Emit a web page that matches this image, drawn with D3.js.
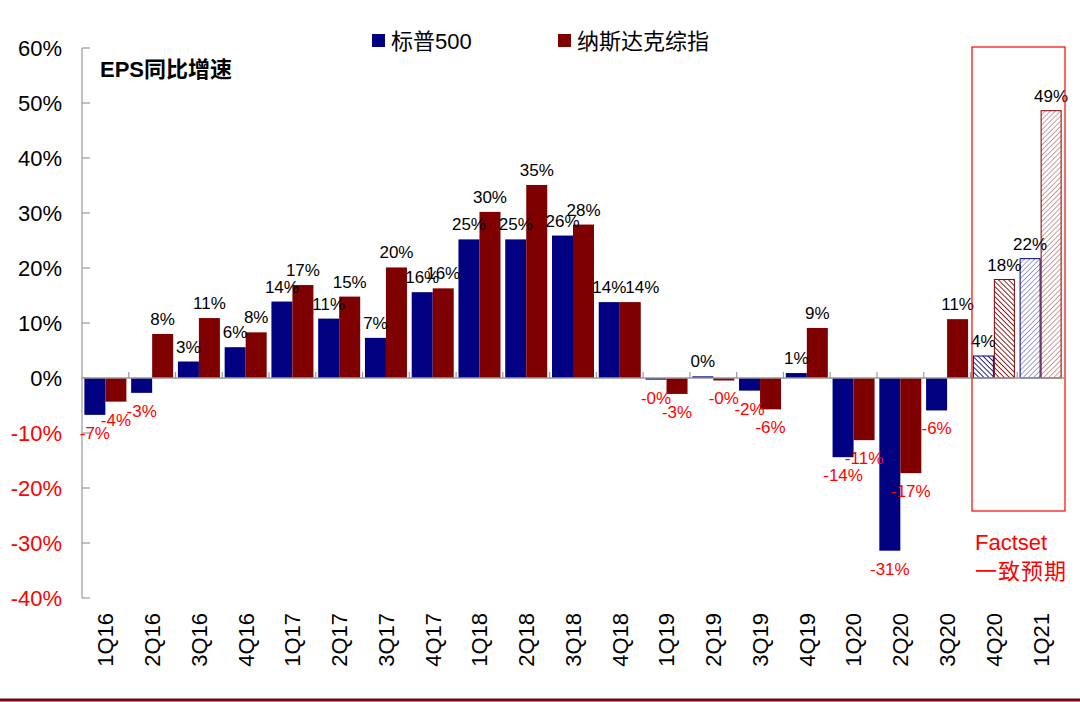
<!DOCTYPE html>
<html><head><meta charset="utf-8">
<script src="https://cdn.jsdelivr.net/npm/d3@7"></script>
<style>body{margin:0;background:#fff}svg{display:block}</style>
</head><body>
<svg id="c" width="1080" height="702"></svg>
<script>
const categories = ["1Q16","2Q16","3Q16","4Q16","1Q17","2Q17","3Q17","4Q17","1Q18","2Q18","3Q18","4Q18","1Q19","2Q19","3Q19","4Q19","1Q20","2Q20","3Q20","4Q20","1Q21"];
const sp500 = [-6.7,-2.7,3.0,5.6,13.9,10.8,7.3,15.6,25.2,25.2,25.9,13.8,-0.3,0.3,-2.3,0.9,-14.4,-31.4,-5.9,4.0,21.7];
const nasdaq = [-4.3,8.0,10.9,8.3,16.9,14.8,20.1,16.3,30.2,35.1,27.9,13.8,-2.9,-0.45,-5.7,9.1,-11.3,-17.3,10.7,17.9,48.6];
const seriesNames = ["标普500","纳斯达克综指"];
const yTicks = [60,50,40,30,20,10,0,-10,-20,-30,-40];
const forecastCats = ["4Q20","1Q21"];
const forecastText = ["Factset","一致预期"];
const titleText = "EPS同比增速";

const BLUE = "#000080", RED = "#7f0000";
const svg = d3.select("#c");
const FONT = "Arial, 'Liberation Sans', 'Noto Sans CJK SC', sans-serif";

const x0 = d3.scaleBand().domain(categories).range([82, 1064]).padding(0);
const x1 = d3.scaleBand().domain([0,1]).range([0, x0.bandwidth()]).paddingInner(0).paddingOuter(0.113);
const y = d3.scaleLinear().domain([-40, 60]).range([598, 48]);

// patterns
const defs = svg.append("defs");
function pat(id, color, angle, gap, w) {
  const p = defs.append("pattern").attr("id", id).attr("patternUnits","userSpaceOnUse")
    .attr("width", gap).attr("height", gap).attr("patternTransform", `rotate(${angle})`);
  p.append("rect").attr("width", gap).attr("height", gap).attr("fill", "#fff");
  p.append("line").attr("x1", 0).attr("y1", 0).attr("x2", 0).attr("y2", gap)
    .attr("stroke", color).attr("stroke-width", w);
}
pat("pb1", BLUE, -45, 3.6, 1.7);
pat("pr1", RED, -45, 3.6, 1.7);
pat("pb2", "#6a6ab8", 45, 3.6, 1.3);
pat("pr2", "#b06a6a", 45, 3.6, 1.3);

// y axis
const yAxis = svg.append("g");
yAxis.append("line").attr("x1", 82).attr("x2", 82).attr("y1", y(60)).attr("y2", y(-40)).attr("stroke", "#999").attr("stroke-width", 1.2);
yAxis.selectAll("line.t").data(yTicks).join("line").attr("class","t")
  .attr("x1", 82).attr("x2", 90).attr("y1", d => y(d)).attr("y2", d => y(d)).attr("stroke", "#999").attr("stroke-width", 1.2);
yAxis.selectAll("text").data(yTicks).join("text")
  .attr("x", 62).attr("y", d => y(d)).attr("dy", "0.36em").attr("text-anchor", "end")
  .attr("font-family", FONT).attr("font-size", 22)
  .attr("fill", d => d < 0 ? "#ff0000" : "#000")
  .text(d => d + "%");

// bars
const rows = categories.map((c, i) => ({c, i, vals: [sp500[i], nasdaq[i]]}));
const fcIdx = c => forecastCats.indexOf(c);
function fillFor(c, s) {
  const k = fcIdx(c);
  if (k < 0) return s === 0 ? BLUE : RED;
  return k === 0 ? (s === 0 ? "url(#pb1)" : "url(#pr1)") : (s === 0 ? "url(#pb2)" : "url(#pr2)");
}
const g = svg.append("g");
rows.forEach(r => {
  r.vals.forEach((v, s) => {
    const bx = x0(r.c) + x1(s);
    const isF = fcIdx(r.c) >= 0;
    g.append("rect")
      .attr("x", bx + (isF ? 0.5 : 0)).attr("width", x1.bandwidth() - (isF ? 1 : 0))
      .attr("y", Math.min(y(v), y(0))).attr("height", Math.abs(y(v) - y(0)))
      .attr("fill", fillFor(r.c, s))
      .attr("stroke", isF ? (s === 0 ? BLUE : RED) : "none").attr("stroke-width", 1);
  });
});

// x axis line + ticks
svg.append("line").attr("x1", 82).attr("x2", 1064).attr("y1", y(0)).attr("y2", y(0)).attr("stroke", "#999").attr("stroke-width", 1.5);
svg.append("g").selectAll("line").data(categories.slice(1)).join("line")
  .attr("x1", d => x0(d)).attr("x2", d => x0(d)).attr("y1", y(0)).attr("y2", y(0) - 6)
  .attr("stroke", "#999").attr("stroke-width", 1.2);

// value labels (one label nudged right as in the source)
const fmt = v => (v < 0 ? "-" : "") + Math.abs(Math.round(v)) + "%";
const nudge = {"4Q18-1": 12};
rows.forEach(r => {
  r.vals.forEach((v, s) => {
    const cx = x0(r.c) + x1(s) + x1.bandwidth() / 2 + (nudge[r.c + "-" + s] || 0);
    g.append("text").attr("x", cx)
      .attr("y", v >= 0 ? y(v) - 9 : y(v) + 24)
      .attr("text-anchor", "middle").attr("font-family", FONT).attr("font-size", 17)
      .attr("fill", v >= 0 ? "#000" : "#ff0000")
      .text(fmt(v));
  });
});

// x labels
svg.append("g").selectAll("text").data(categories).join("text")
  .attr("transform", d => `translate(${x0(d) + x0.bandwidth()/2},613) rotate(-90)`)
  .attr("dy", "0.36em").attr("text-anchor", "end")
  .attr("font-family", FONT).attr("font-size", 22).attr("fill", "#000")
  .text(d => d);

// forecast box
const bx0 = x0(forecastCats[0]) + 1.5, bx1 = x0(forecastCats[1]) + x0.bandwidth() + 1;
svg.append("rect").attr("x", bx0).attr("y", 47).attr("width", bx1 - bx0).attr("height", 464)
  .attr("fill", "none").attr("stroke", "#ff0000").attr("stroke-width", 1.2);
svg.append("g").selectAll("text").data(forecastText).join("text")
  .attr("x", 975).attr("y", (d, i) => 550 + i * 29)
  .attr("font-family", FONT).attr("font-size", 22).attr("fill", "#ff0000")
  .attr("letter-spacing", (d, i) => i === 1 ? 1 : 0)
  .text(d => d);

// title
svg.append("text").attr("x", 100).attr("y", 77)
  .attr("font-family", FONT).attr("font-size", 22).attr("font-weight", "bold").attr("fill", "#000")
  .text(titleText);

// legend
const leg = svg.append("g");
const legX = [372, 558];
seriesNames.forEach((n, i) => {
  leg.append("rect").attr("x", legX[i]).attr("y", 34).attr("width", 13).attr("height", 13).attr("fill", i === 0 ? BLUE : RED);
  leg.append("text").attr("x", legX[i] + 19).attr("y", 49)
    .attr("font-family", FONT).attr("font-size", 22).attr("fill", "#000").text(n);
});

// bottom rule
svg.append("line").attr("x1", 0).attr("x2", 1080).attr("y1", 700).attr("y2", 700).attr("stroke", "#6b0d0d").attr("stroke-width", 3);
</script>
</body></html>
